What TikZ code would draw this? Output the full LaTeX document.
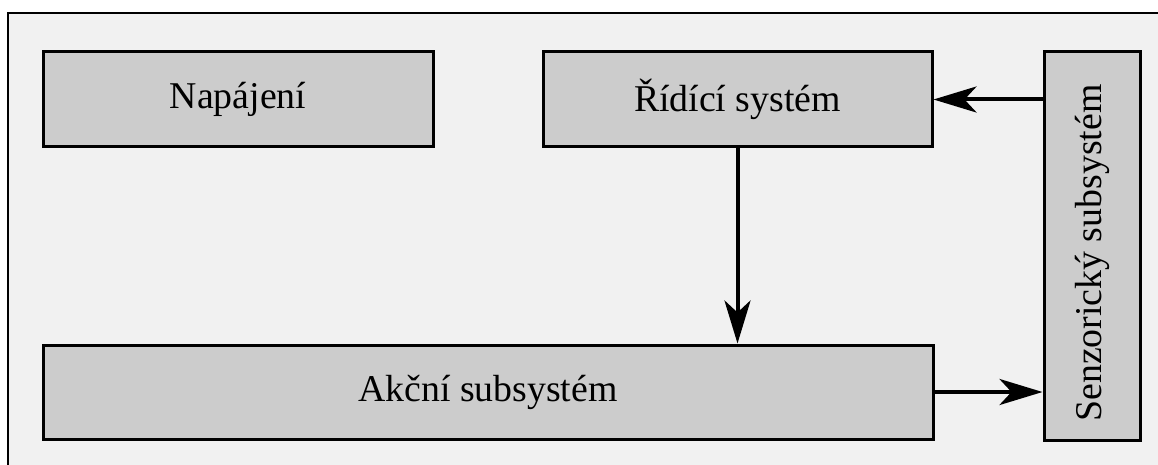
\documentclass[tikz,border=0pt]{standalone}
\usepackage{fontspec}
\setmainfont{Liberation Serif}
\usetikzlibrary{arrows.meta}
\definecolor{bgc}{RGB}{241,241,241}
\definecolor{boxc}{RGB}{204,204,204}
\tikzset{
  blk/.style={draw=black, fill=boxc, line width=3pt, inner sep=0pt,
    font=\fontsize{37.8}{45}\selectfont, text=black},
  arr/.style={line width=4pt, -{Stealth[length=43pt, width=26pt, inset=12pt]}},
}
\begin{document}
\begin{tikzpicture}[x=1pt,y=-1pt]
\useasboundingbox (0,0) rectangle (1158,465);
\fill[bgc] (8,13) rectangle (1158,465);
\draw[line width=2pt] (8,465) -- (8,13) -- (1158,13);
\node[blk, minimum width=390pt, minimum height=95pt] (nap) at (238,99.5) {Napájení};
\node[blk, minimum width=389pt, minimum height=95pt] (rid) at (737.5,99.5) {Řídící systém};
\node[blk, minimum width=890pt, minimum height=94pt] (akc) at (488,392) {Akční subsystém};
\node[blk, minimum width=96pt, minimum height=388pt] (sen) at (1092,246) {\rotatebox{90}{Senzorický subsystém\hspace{14pt}}};
\draw[arr] (sen.west |- rid.east) -- (rid.east);
\draw[arr] (rid.south) -- (rid.south |- akc.north);
\draw[arr] (akc.east) -- (akc.east -| sen.west);
\end{tikzpicture}
\end{document}
